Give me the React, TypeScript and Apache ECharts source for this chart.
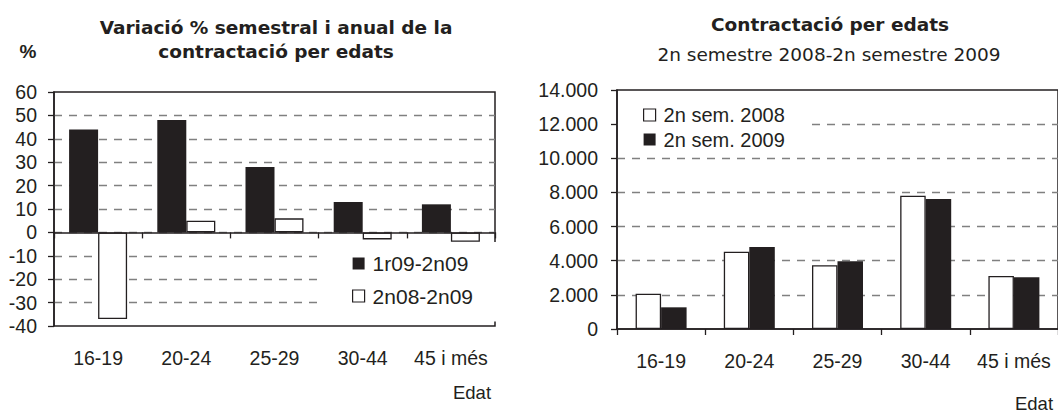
import React, { useEffect, useRef } from "react";
import * as echarts from "echarts";

const categories = ["16-19", "20-24", "25-29", "30-44", "45 i més"];
const seriesSemestralName = "1r09-2n09";
const seriesAnualName = "2n08-2n09";
const variacioSemestral = [44, 48, 28, 13, 12];
const variacioAnual = [-37, 5, 6, -3, -4];

const series2008Name = "2n sem. 2008";
const series2009Name = "2n sem. 2009";
const contractes2008 = [2070, 4530, 3730, 7810, 3110];
const contractes2009 = [1270, 4800, 3970, 7620, 3030];

const leftTitle = "Variació % semestral i anual de la\ncontractació per edats";
const rightTitle = "Contractació per edats";
const rightSubtitle = "2n semestre 2008-2n semestre 2009";
const xName = "Edat";
const leftYName = "%";

const INK = "#231f20";
const GRID = "#808080";
const FONT = "'Liberation Sans', Arial, sans-serif";
const TITLE_FONT = "'DejaVu Sans', sans-serif";

const fmtThousands = (v: number) =>
  String(v).replace(/\B(?=(\d{3})+(?!\d))/g, ".");

export default function App() {
  const ref = useRef<HTMLDivElement>(null);
  useEffect(() => {
    if (!ref.current) return;
    const chart = echarts.init(ref.current, null, { renderer: "svg" });
    const tickLabel = { fontFamily: FONT, fontSize: 19.5, color: INK };
    const dashed = { color: GRID, type: [8, 7] as any, width: 1.3 };
    const titleLines = leftTitle.split("\n");
    chart.setOption({
      animation: false,
      backgroundColor: "#fff",
      grid: [
        {
          left: 54, top: 92, width: 441, height: 234,
          show: true, borderColor: INK, borderWidth: 1.5, backgroundColor: "transparent",
        },
        {
          left: 617, top: 90, width: 442, height: 239,
          show: true, borderColor: INK, borderWidth: 1.5, backgroundColor: "transparent",
        },
      ],
      xAxis: [
        {
          gridIndex: 0, type: "category", data: categories, z: 3,
          axisLine: { onZero: true, lineStyle: { color: INK, width: 1.5 } },
          axisTick: { show: true, length: 6, interval: 0, lineStyle: { color: INK, width: 1.3 } },
          axisLabel: { show: false },
        },
        {
          gridIndex: 0, type: "category", data: categories, position: "bottom",
          axisLine: { show: false, onZero: false },
          axisTick: { show: false },
          axisLabel: { ...tickLabel, margin: 22, interval: 0 },
        },
        {
          gridIndex: 1, type: "category", data: categories, z: 3,
          axisLine: { onZero: true, lineStyle: { color: INK, width: 1.5 } },
          axisTick: { show: true, length: 6, interval: 0, lineStyle: { color: INK, width: 1.3 } },
          axisLabel: { ...tickLabel, margin: 22, interval: 0 },
        },
      ],
      yAxis: [
        {
          gridIndex: 0, type: "value", min: -40, max: 60, interval: 10,
          axisLine: { show: true, lineStyle: { color: INK, width: 1.5 } },
          axisTick: { show: true, length: 6, lineStyle: { color: INK, width: 1.3 } },
          axisLabel: { ...tickLabel, margin: 17 },
          splitLine: { show: true, lineStyle: dashed, showMinLine: false, showMaxLine: false },
        },
        {
          gridIndex: 1, type: "value", min: 0, max: 14000, interval: 2000,
          axisLine: { show: true, lineStyle: { color: INK, width: 1.5 } },
          axisTick: { show: true, length: 6, lineStyle: { color: INK, width: 1.3 } },
          axisLabel: { ...tickLabel, margin: 19, formatter: (v: number) => fmtThousands(v) },
          splitLine: { show: true, lineStyle: dashed, showMinLine: false, showMaxLine: false },
        },
      ],
      legend: [
        {
          data: [
            { name: seriesSemestralName, itemStyle: { color: INK, borderWidth: 0 } },
            { name: seriesAnualName, itemStyle: { color: "#fff", borderColor: INK, borderWidth: 1.2 } },
          ],
          orient: "vertical", left: 323, top: 242,
          padding: [11, 31, 15, 29], itemGap: 11.5, itemWidth: 12, itemHeight: 12,
          backgroundColor: "#fff", icon: "rect", selectedMode: false,
          textStyle: { fontFamily: FONT, fontSize: 21, color: INK, padding: [0, 0, 0, 3] },
        },
        {
          data: [
            { name: series2008Name, itemStyle: { color: "#fff", borderColor: INK, borderWidth: 1.2 } },
            { name: series2009Name, itemStyle: { color: INK, borderWidth: 0 } },
          ],
          orient: "vertical", left: 618, top: 92,
          padding: [13, 24, 5, 25], itemGap: 4.5, itemWidth: 12, itemHeight: 12,
          backgroundColor: "#fff", icon: "rect", selectedMode: false,
          textStyle: { fontFamily: FONT, fontSize: 20, color: INK, padding: [0, 0, 0, 3] },
        },
      ],
      series: [
        {
          name: seriesSemestralName, type: "bar", xAxisIndex: 0, yAxisIndex: 0,
          data: variacioSemestral, barWidth: 29, barGap: "0%",
          itemStyle: { color: INK },
        },
        {
          name: seriesAnualName, type: "bar", xAxisIndex: 0, yAxisIndex: 0,
          data: variacioAnual, barWidth: 29, barGap: "0%",
          itemStyle: { color: "#fff", borderColor: INK, borderWidth: 1.3 },
        },
        {
          name: series2008Name, type: "bar", xAxisIndex: 2, yAxisIndex: 1,
          data: contractes2008, barWidth: 25.5, barGap: "0%",
          itemStyle: { color: "#fff", borderColor: INK, borderWidth: 1.3 },
        },
        {
          name: series2009Name, type: "bar", xAxisIndex: 2, yAxisIndex: 1,
          data: contractes2009, barWidth: 25.5, barGap: "0%",
          itemStyle: { color: INK },
        },
      ],
      graphic: [
        {
          type: "text", x: 276, y: 27,
          style: { text: titleLines[0], fontFamily: TITLE_FONT, fontWeight: "bold", fontSize: 18.5, fill: INK, align: "center", verticalAlign: "middle" },
        },
        {
          type: "text", x: 276, y: 51,
          style: { text: titleLines[1], fontFamily: TITLE_FONT, fontWeight: "bold", fontSize: 18.5, fill: INK, align: "center", verticalAlign: "middle" },
        },
        {
          type: "text", x: 28, y: 51,
          style: { text: leftYName, fontFamily: FONT, fontWeight: "bold", fontSize: 19, fill: INK, align: "center", verticalAlign: "middle" },
        },
        {
          type: "text", x: 830, y: 24,
          style: { text: rightTitle, fontFamily: TITLE_FONT, fontWeight: "bold", fontSize: 18.5, fill: INK, align: "center", verticalAlign: "middle" },
        },
        {
          type: "text", x: 829, y: 54,
          style: { text: rightSubtitle, fontFamily: TITLE_FONT, fontSize: 18.5, fill: INK, align: "center", verticalAlign: "middle" },
        },
        {
          type: "text", x: 472, y: 392,
          style: { text: xName, fontFamily: FONT, fontSize: 18.5, fill: INK, align: "center", verticalAlign: "middle" },
        },
        {
          type: "text", x: 1034, y: 403,
          style: { text: xName, fontFamily: FONT, fontSize: 18.5, fill: INK, align: "center", verticalAlign: "middle" },
        },
      ],
    });
    return () => chart.dispose();
  }, []);
  return (
    <div
      ref={ref}
      style={{ position: "fixed", left: 0, top: 0, width: 1058, height: 412, background: "#fff" }}
    />
  );
}
